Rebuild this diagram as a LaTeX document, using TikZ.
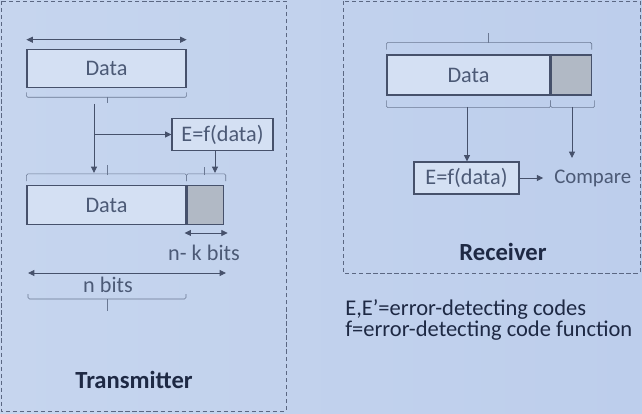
\documentclass[tikz,border=0pt]{standalone}
\usepackage{xcolor}
\usepackage{tikz}
\usepackage{fontspec}
\setmainfont{Carlito}
\usetikzlibrary{shapes,arrows.meta,positioning,calc}
\definecolor{slidebg}{HTML}{C6D5EE}
\definecolor{slidebgright}{HTML}{BDCEEC}
\definecolor{boxfill}{HTML}{D4E0F3}
\definecolor{boxline}{HTML}{46516B}
\definecolor{codegray}{HTML}{B1B9C5}
\definecolor{diagtext}{HTML}{4C5A76}
\definecolor{titletext}{HTML}{1E2944}
\definecolor{braceline}{HTML}{6A7893}
\definecolor{frameline}{HTML}{5B6782}
\tikzstyle{databox} = [rectangle, draw=boxline, thick, fill=boxfill, inner sep=0pt,
    minimum height=0.97cm, text=diagtext, font=\fontsize{15.8}{17}\selectfont]
\tikzstyle{codebox} = [rectangle, draw=boxline, thick, fill=codegray, inner sep=0pt,
    minimum height=0.97cm]
\tikzstyle{funcbox} = [rectangle, draw=boxline, thick, fill=boxfill, inner sep=0pt,
    minimum height=0.8cm, text=diagtext, font=\fontsize{15.8}{17}\selectfont]
\tikzstyle{label} = [inner sep=0pt, text=diagtext, font=\fontsize{15.8}{17}\selectfont]
\tikzstyle{title} = [inner sep=0pt, text=titletext, font=\fontsize{17.5}{19}\selectfont\bfseries]
\tikzstyle{legendline} = [anchor=base west, inner sep=0pt, text=titletext,
    text height=9pt, text depth=2pt, font=\fontsize{16}{17}\selectfont]
\tikzstyle{arrow} = [-{Triangle[length=1.6mm,width=1.5mm]}, semithick, boxline]
\tikzstyle{span} = [{Triangle[length=1.6mm,width=1.5mm]}-{Triangle[length=1.6mm,width=1.5mm]}, semithick, boxline]
\tikzstyle{bracket} = [thin, braceline, rounded corners=1pt]
\tikzstyle{frame} = [thin, frameline, dash pattern=on 3pt off 2pt]

\begin{document}
\begin{tikzpicture}[x=0.025cm, y=-0.025cm]
% slide background
\shade[left color=slidebg, right color=slidebgright] (0,0) rectangle (642,413);
\useasboundingbox (0,0) rectangle (642,413);
\draw[frame] (1,1) rectangle (286,411);
\draw[frame] (343,1) rectangle (640,273);

% transmitter
\node[databox, minimum width=3.975cm] (txdata) at (106.5,68.5) {Data};
\draw[span] ([yshift=0.22cm]txdata.north west) -- ([yshift=0.22cm]txdata.north east);
\draw[bracket] ([yshift=-0.1cm]txdata.south west) -- ([yshift=-0.22cm]txdata.south west)
    -- ([yshift=-0.22cm]txdata.south east) -- ([yshift=-0.1cm]txdata.south east);
\draw[bracket] (107,97) -- (107,103);
\node[funcbox, minimum width=2.525cm] (txfunc) at (222.5,134.5) {E=f(data)};
\node[databox, minimum width=3.975cm] (txdata2) at (106.5,205) {Data};
\node[codebox, minimum width=0.9cm, right=0pt of txdata2] (txcode) {};
\coordinate (split) at (94,104);
\draw[arrow] (split) -- (split |- 0,173);
\draw[arrow] (split |- txfunc.west) -- (txfunc.west);
\draw[arrow] (txfunc.south -| 215,0) -- (215,173);
\draw[bracket] ([yshift=0.1cm]txdata2.north west) -- ([yshift=0.28cm]txdata2.north west)
    -- ([yshift=0.28cm]txdata2.north east) -- ([yshift=0.1cm]txdata2.north east);
\draw[bracket] (107,175) -- (107,165);
\draw[bracket] ([yshift=0.1cm]txcode.north west) -- ([yshift=0.28cm]txcode.north west)
    -- ([xshift=0.05cm,yshift=0.28cm]txcode.north east) -- ([xshift=0.05cm,yshift=0.1cm]txcode.north east);
\draw[bracket] (204,175) -- (204,167);
\draw[span] ([xshift=-0.05cm,yshift=-0.2cm]txcode.south west) -- ([xshift=0.1cm,yshift=-0.2cm]txcode.south east);
\node[label] (nkbits) at (204,253) {n- k bits};
\coordinate (nstart) at (28,273);
\coordinate (nend) at (226,273);
\draw[span] (nstart) -- (nend);
\node[label] (nbits) at (108,285) {n bits};
\draw[bracket] (28,294) -- (28,299) -- (186,299) -- (186,294);
\draw[bracket] (107,299) -- (107,311);
\node[title] (transmitter) at (134,380) {Transmitter};

% receiver
\node[databox, minimum width=4.075cm, minimum height=1cm] (rxdata) at (468.5,75) {Data};
\node[codebox, minimum width=1cm, minimum height=1cm, right=0pt of rxdata] (rxcode) {};
\draw[bracket] ([yshift=0.12cm]rxdata.north west) -- ([yshift=0.3cm]rxdata.north west)
    -- ([yshift=0.3cm]rxcode.north east) -- ([yshift=0.12cm]rxcode.north east);
\draw[bracket] (488,43) -- (488,33);
\draw[bracket] ([yshift=-0.12cm]rxdata.south west) -- ([yshift=-0.3cm]rxdata.south west)
    -- ([yshift=-0.3cm]rxdata.south east) -- ([yshift=-0.12cm]rxdata.south east);
\draw[bracket] ([yshift=-0.12cm]rxcode.south west) -- ([yshift=-0.3cm]rxcode.south west)
    -- ([xshift=0.07cm,yshift=-0.3cm]rxcode.south east) -- ([xshift=0.07cm,yshift=-0.12cm]rxcode.south east);
\node[funcbox, minimum width=2.625cm] (rxfunc) at (466.5,178) {E=f(data)};
\node[label, anchor=west, font=\fontsize{14.8}{16}\selectfont] (compare) at (554,178) {Compare};
\draw[arrow] (467,107) -- (rxfunc.north -| 467,0);
\draw[arrow] (572,107) -- (572,158);
\draw[arrow] (rxfunc.east) -- ([xshift=-0.27cm]compare.west);
\node[title] (receiver) at (503,252) {Receiver};

% legend
\node[legendline] (legendcodes) at (345,315) {E,E'=error-detecting codes};
\node[legendline] (legendfunc) at (345,336) {f=error-detecting code function};
\end{tikzpicture}
\end{document}
